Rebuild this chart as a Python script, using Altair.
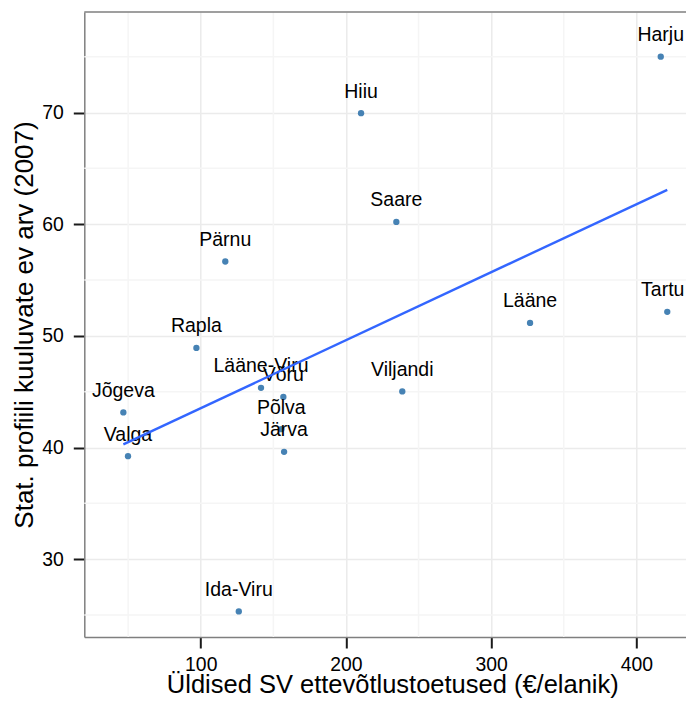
import altair as alt
import pandas as pd

regions = ["Harju", "Tartu", "Lääne", "Hiiu", "Saare", "Pärnu", "Rapla", "Lääne-Viru",
           "Võru", "Viljandi", "Jõgeva", "Põlva", "Järva", "Valga", "Ida-Viru"]
support = [416.8, 421.3, 326.8, 210.4, 234.7, 116.9, 97.0, 141.5,
           156.9, 238.8, 46.7, 155.5, 157.4, 49.9, 126.2]
firms = [75.0, 52.15, 51.16, 69.94, 60.2, 56.66, 48.92, 45.34,
         44.53, 45.02, 43.14, 41.64, 39.61, 39.22, 25.32]
x_major = [100, 200, 300, 400]
x_minor = [50, 150, 250, 350]
y_major = [30, 40, 50, 60, 70]
y_minor = [25, 35, 45, 55, 65, 75]

FONT = "Liberation Sans, Arial, sans-serif"

df = pd.DataFrame({"region": regions, "x": support, "y": firms})
xscale = alt.Scale(domain=[19.8, 434.4], nice=False, zero=False)
yscale = alt.Scale(domain=[23.03, 79.0], nice=False, zero=False)

xaxis = alt.Axis(values=x_major, grid=True, gridColor="#ebebeb", gridWidth=1.5,
                 tickSize=11, tickWidth=2, tickColor="#1a1a1a",
                 domainColor="#7f7f7f", domainWidth=1.5,
                 labelFont=FONT, labelFontSize=19.4, labelColor="black", labelPadding=8,
                 title="Üldised SV ettevõtlustoetused (€/elanik)",
                 titleFont=FONT, titleFontSize=25.5, titleFontWeight="normal", titleColor="black",
                 titleX=308, titleY=55.5, titleBaseline="alphabetic")
yaxis = alt.Axis(values=y_major, grid=True, gridColor="#ebebeb", gridWidth=1.5,
                 tickSize=11, tickWidth=2, tickColor="#1a1a1a",
                 domainColor="#7f7f7f", domainWidth=1.5,
                 labelFont=FONT, labelFontSize=19.4, labelColor="black", labelPadding=10,
                 title="Stat. profiili kuuluvate ev arv (2007)",
                 titleFont=FONT, titleFontSize=26, titleFontWeight="normal", titleColor="black",
                 titleX=-51.8, titleY=312.5, titleBaseline="alphabetic")

xminor = alt.Chart(pd.DataFrame({"x": x_minor})).mark_rule(
    color="#f5f5f5", strokeWidth=1.5).encode(x=alt.X("x:Q", scale=xscale, axis=xaxis))
yminor = alt.Chart(pd.DataFrame({"y": y_minor})).mark_rule(
    color="#f5f5f5", strokeWidth=1.5).encode(y=alt.Y("y:Q", scale=yscale, axis=yaxis))
topborder = alt.Chart(pd.DataFrame({"v": [0]})).mark_rule(
    color="#7f7f7f", strokeWidth=1.5).encode(y=alt.value(0))

base = alt.Chart(df)
enc_x = alt.X("x:Q", scale=xscale, axis=xaxis)
enc_y = alt.Y("y:Q", scale=yscale, axis=yaxis)
points = base.mark_circle(size=40, color="#4682b4", opacity=1).encode(x=enc_x, y=enc_y)
labels = base.transform_filter("datum.region != 'Tartu'").mark_text(
    dy=-15.5, baseline="alphabetic", align="center",
    font=FONT, fontSize=19.5, color="black").encode(x=enc_x, y=enc_y, text="region:N")
# label at the right edge nudged slightly inward so it is not clipped
edge_label = base.transform_filter("datum.region == 'Tartu'").mark_text(
    dy=-15.5, dx=-4.5, baseline="alphabetic", align="center",
    font=FONT, fontSize=19.5, color="black").encode(x=enc_x, y=enc_y, text="region:N")
line = base.transform_regression("x", "y").mark_line(
    color="#3366FF", strokeWidth=2.4).encode(x=enc_x, y=enc_y)

chart = alt.layer(xminor, yminor, points, labels, edge_label, line, topborder).properties(
    width=602, height=625,
    autosize=alt.AutoSizeParams(type="none"),
    padding={"left": 76.3, "top": 4, "right": 0, "bottom": 61},
    background="white",
).configure_view(stroke=None)

chart.save("out.html", embed_options={"renderer": "svg", "actions": False})
